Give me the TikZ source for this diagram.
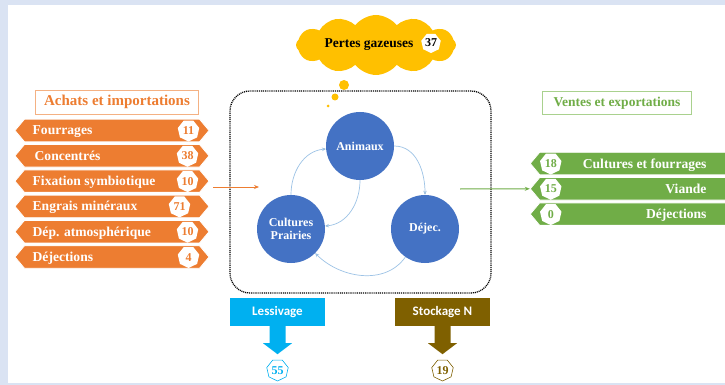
\documentclass[tikz,border=0pt]{standalone}
\usepackage{fontspec}
\setmainfont{Liberation Serif}
\newfontfamily\carlito{Carlito}
\usepackage{xcolor}
\usepackage{tikz}
\usetikzlibrary{positioning, shapes.symbols, shapes.geometric, arrows.meta}

\definecolor{orangeN}{HTML}{ED7D31}
\definecolor{orangeL}{HTML}{F4B183}
\definecolor{greenN}{HTML}{70AD47}
\definecolor{greenL}{HTML}{A9D18E}
\definecolor{blueN}{HTML}{4472C4}
\definecolor{blueL}{HTML}{9DC3E6}
\definecolor{cyanN}{HTML}{00B0F0}
\definecolor{brownN}{HTML}{7F6000}
\definecolor{goldN}{HTML}{FFC000}
\definecolor{frameN}{HTML}{DAE3F3}

\tikzset{
  inbox/.style={signal, signal to=west and east, signal pointer angle=100, fill=orangeN, draw=white,
    line width=0.8pt, minimum width=194pt, minimum height=22.5pt, inner sep=0pt},
  outbox/.style={signal, signal to=west, signal pointer angle=100, fill=greenN, draw=white,
    line width=0.8pt, minimum width=200pt, minimum height=22.5pt, inner sep=0pt},
  boxtext/.style={text=white, inner sep=0pt, text height=9pt, text depth=0pt,
    font=\bfseries\fontsize{13.6}{13.6}\selectfont},
  badge/.style={regular polygon, regular polygon sides=7, shape border rotate=180, fill=white,
    minimum size=22pt, inner sep=0pt, text height=8pt, text depth=0pt,
    font=\bfseries\fontsize{12}{12}\selectfont},
  titlebox/.style={draw, line width=0.8pt, fill=white, minimum height=24pt, inner sep=0pt,
    font=\bfseries\fontsize{15}{15}\selectfont},
  pole/.style={circle, fill=blueN, minimum size=68pt, inner sep=0pt, text=white, align=center,
    font=\bfseries\fontsize{12}{13.5}\selectfont},
  flux/.style={draw=blueL, line width=0.7pt, -{Stealth[length=4pt, width=3.5pt]}},
  lossbox/.style={minimum width=95pt, minimum height=28pt, inner sep=0pt, text=white,
    font=\carlito\bfseries\fontsize{13}{13}\selectfont}
}

\begin{document}
\begin{tikzpicture}[x=1pt, y=1pt, node distance=25.3pt, on grid]
        % fond et cadre
        \fill[frameN] (0,0) rectangle (725,-385);
        \fill[white] (8,-5) rectangle (725,-382.5);
        \useasboundingbox (0,0) rectangle (725,-385);

        % achats et importations
        \node[titlebox, draw=orangeL, text=orangeN, minimum width=163pt] (achats) at (117,-102) {Achats et importations};
        \node[inbox] (fourr) at (112,-130.5) {};
        \node[inbox, below=of fourr] (conc) {};
        \node[inbox, below=of conc] (fixa) {};
        \node[inbox, below=of fixa] (engr) {};
        \node[inbox, below=of engr] (depat) {};
        \node[inbox, below=of depat] (dejin) {};

        \node[boxtext, anchor=west] at ([xshift=18pt]fourr.west) {Fourrages};
        \node[boxtext, anchor=west] at ([xshift=20pt]conc.west) {Concentrés};
        \node[boxtext, anchor=west] at ([xshift=18pt]fixa.west) {Fixation symbiotique};
        \node[boxtext, anchor=west] at ([xshift=18pt]engr.west) {Engrais minéraux};
        \node[boxtext, anchor=west] at ([xshift=18pt]depat.west) {Dép. atmosphérique};
        \node[boxtext, anchor=west] at ([xshift=18pt]dejin.west) {Déjections};

        \node[badge, text=orangeN] (nfourr) at ([xshift=-21pt]fourr.east) {11};
        \node[badge, text=orangeN] (nconc) at ([xshift=-22pt]conc.east) {38};
        \node[badge, text=orangeN] (nfixa) at ([xshift=-22pt]fixa.east) {10};
        \node[badge, text=orangeN] (nengr) at ([xshift=-30pt]engr.east) {71};
        \node[badge, text=orangeN] (ndepat) at ([xshift=-22pt]depat.east) {10};
        \node[badge, text=orangeN] (ndejin) at ([xshift=-21pt]dejin.east) {4};

        % ventes et exportations
        \node[titlebox, draw=greenL, text=greenN, minimum width=149pt, minimum height=23pt,
          font=\bfseries\fontsize{13.5}{13.5}\selectfont] (ventes) at (617,-103) {Ventes et exportations};
        \node[outbox] (cult) at (635,-163.5) {};
        \node[outbox, below=of cult] (viande) {};
        \node[outbox, below=of viande] (dejout) {};

        \node[badge, text=greenN] (ncult) at ([xshift=21pt]cult.west) {18};
        \node[badge, text=greenN] (nviande) at ([xshift=21pt]viande.west) {15};
        \node[badge, text=greenN] (ndejout) at ([xshift=21pt]dejout.west) {0};

        \node[boxtext, anchor=east] at ([xshift=-24pt]cult.east) {Cultures et fourrages};
        \node[boxtext, anchor=east] at ([xshift=-24pt]viande.east) {Viande};
        \node[boxtext, anchor=east] at ([xshift=-24pt]dejout.east) {Déjections};

        % exploitation
        \node[draw, line width=1.3pt, dash pattern=on 1pt off 0.9pt, rounded corners=20pt,
          minimum width=261pt, minimum height=202pt] (ferme) at (360.5,-192) {};
        \node[pole] (anim) at (360,-146) {Animaux};
        \node[pole] (cultp) at (291,-229) {Cultures\\Prairies};
        \node[pole] (dejec) at (425,-229) {Déjec.};

        \path[flux]
        (cultp) edge[out=90, in=185] (anim)
        (anim) edge[out=0, in=90] (dejec)
        (anim) edge[out=-90, in=5] (cultp)
        (dejec) edge[out=-125, in=-45] (cultp);

        \coordinate (inA) at (213,-187);
        \coordinate (inB) at (259,-187);
        \draw[orangeN, line width=1pt, -{Stealth[length=5pt, width=4pt]}] (inA) -- (inB);
        \coordinate (outA) at (460,-189);
        \draw[greenN, line width=1pt, -{Stealth[length=5pt, width=4pt]}] (outA) -- (viande.west);

        % pertes gazeuses
        \node[cloud, cloud puffs=12, cloud puff arc=105, aspect=2.6, fill=goldN, minimum width=160pt,
          minimum height=60pt, inner sep=0pt] (gaz) at (376,-45) {};
        \node[font=\bfseries\fontsize{13.5}{13.5}\selectfont, text height=9pt, text depth=0pt,
          inner sep=0pt] (pertes) at ([xshift=-7pt, yshift=2pt]gaz.center) {Pertes gazeuses};
        \node[badge, text=black, minimum size=20pt] (ngaz) at ([xshift=55pt, yshift=2pt]gaz.center) {37};
        \fill[goldN] (344,-85) circle (5);
        \fill[goldN] (335,-97) circle (3.5);
        \fill[goldN] (328,-106) circle (1.5);

        % pertes vers le milieu
        \node[lossbox, fill=cyanN] (less) at (277.5,-312) {Lessivage};
        \node[lossbox, fill=brownN] (stock) at (442.5,-312) {Stockage N};
        \fill[cyanN] ([xshift=-8pt, yshift=1pt]less.south) -- ++(0,-18) -- ++(-6.5,0) -- ++(14.5,-11)
          -- ++(14.5,11) -- ++(-6.5,0) -- ++(0,18) -- cycle;
        \fill[brownN] ([xshift=-8pt, yshift=1pt]stock.south) -- ++(0,-18) -- ++(-6.5,0) -- ++(14.5,-11)
          -- ++(14.5,11) -- ++(-6.5,0) -- ++(0,18) -- cycle;
        \node[badge, draw=cyanN, line width=0.6pt, text=cyanN] (nless) at (277.5,-370) {55};
        \node[badge, draw=brownN, line width=0.6pt, text=brownN] (nstock) at (442.5,-370) {19};

    \end{tikzpicture}
\end{document}
